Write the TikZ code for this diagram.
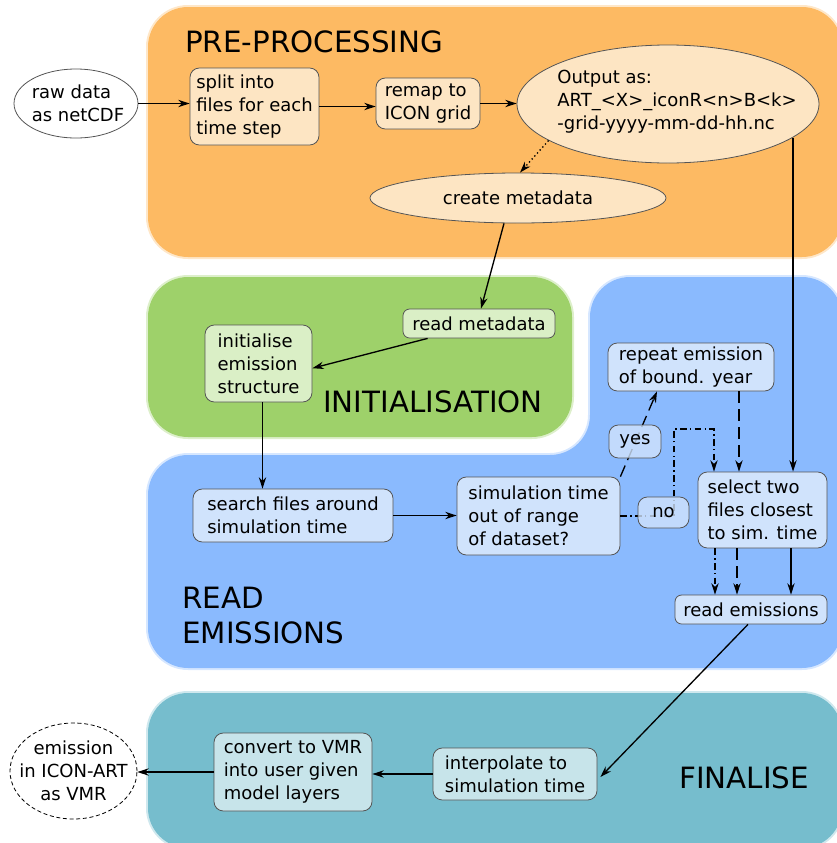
\documentclass[tikz,border=0pt]{standalone}
\usepackage{fontspec}
\setmainfont{DejaVu Sans}
\usetikzlibrary{shapes.geometric,arrows.meta,calc}
\definecolor{orangereg}{RGB}{253,186,99}
\definecolor{orangebox}{RGB}{253,229,195}
\definecolor{greenreg}{RGB}{158,209,106}
\definecolor{greenbox}{RGB}{218,239,198}
\definecolor{bluereg}{RGB}{138,186,254}
\definecolor{bluebox}{RGB}{208,227,252}
\definecolor{tealreg}{RGB}{118,189,205}
\definecolor{tealbox}{RGB}{199,228,234}
\definecolor{edgegray}{RGB}{85,85,85}
\begin{document}
\begin{tikzpicture}[x=0.75pt,y=-0.75pt,
  every node/.style={font=\fontsize{13.5pt}{17.25pt}\selectfont, text=black},
  box/.style={draw=edgegray, line width=0.6pt, rounded corners=7pt, align=left, inner sep=2pt},
  obox/.style={box, fill=orangebox},
  gbox/.style={box, fill=greenbox},
  bbox/.style={box, fill=bluebox},
  tbox/.style={box, fill=tealbox},
  ell/.style={ellipse, draw=edgegray, line width=0.6pt, inner sep=0pt},
  txt/.style={align=left, inner sep=0pt},
  title/.style={font=\fontsize{22pt}{26.25pt}\selectfont, anchor=base west, inner sep=0pt},
  arr/.style={-{Stealth[length=8.5pt,width=5.5pt]}, line width=1pt},
  longdash/.style={dash pattern=on 9pt off 4.5pt},
  dashdotline/.style={dash pattern=on 5pt off 2.5pt on 1pt off 2.5pt},
  dotline/.style={dash pattern=on 1pt off 2pt},
  region/.style={rounded corners=30pt},
  halo/.style={line width=3pt, opacity=0.35, rounded corners=30pt},
  seethrough/.style={fill opacity=0.8, text opacity=1}
]
\useasboundingbox (0,0) rectangle (837,843);
% regions
\fill[orangereg, region] (148,7) rectangle (842,257);
\draw[orangereg, halo] (148,7) rectangle (842,257);
\fill[greenreg, region] (148,277) rectangle (572,437);
\draw[greenreg, halo] (148,277) rectangle (572,437);
\fill[bluereg, region] (148,560) -- (148,455) -- (590,455) -- (590,277) -- (842,277) -- (842,668) -- (148,668) -- cycle;
\draw[bluereg, halo] (148,560) -- (148,455) -- (590,455) -- (590,277) -- (842,277) -- (842,668) -- (148,668) -- cycle;
\fill[tealreg, region] (148,693) rectangle (842,848);
\draw[tealreg, halo] (148,693) rectangle (842,848);
% titles
\node[title] (pretitle) at (185,52) {PRE-PROCESSING};
\node[title] (inittitle) at (323,412) {INITIALISATION};
\node[title] (readtitle1) at (182,608) {READ};
\node[title] (readtitle2) at (182,643) {EMISSIONS};
\node[title] (fintitle) at (679,788) {FINALISE};
% ellipses
\node[ell, fill=white, minimum width=93pt, minimum height=51.75pt] (raw) at (76,103.5) {};
\node[txt] (rawtxt) at (78,103.5) {raw data\\as netCDF};
\node[ell, fill=orangebox, minimum width=226.5pt, minimum height=88.5pt] (output) at (668,104) {};
\node[txt] (outputtxt) at (677,102) {Output as:\\ART\_<X>\_iconR<n>B<k>\\-grid-yyyy-mm-dd-hh.nc};
\node[ell, fill=orangebox, minimum width=222pt, minimum height=37.5pt] (create) at (518,198) {};
\node[txt] (createtxt) at (518,198) {create metadata};
\node[ell, fill=white, draw=black, dash pattern=on 3pt off 2pt, minimum width=95.25pt, minimum height=72pt] (emission) at (73.5,771) {};
\node[align=center, inner sep=0pt] (emissiontxt) at (73.5,771) {emission\\in ICON-ART\\as VMR};
% boxes
\node[obox, minimum width=96.75pt, minimum height=57.75pt] (split) at (254.5,106.5) {split into\\files for each\\time step};
\node[obox, minimum width=78pt, minimum height=38.25pt] (remap) at (428,103.5) {remap to\\ICON grid};
\node[gbox, rounded corners=5pt, minimum width=114pt, minimum height=21.75pt] (readmeta) at (479,323.5) {read metadata};
\node[gbox, minimum width=80.25pt, minimum height=57.75pt] (init) at (258.5,363.5) {initialise\\emission\\structure};
\node[bbox, minimum width=124.5pt, minimum height=36pt] (repeat) at (691,367) {repeat emission\\of bound. year};
\node[bbox, minimum width=122.25pt, minimum height=58.5pt] (sim) at (538.5,516) {simulation time\\out of range\\of dataset?};
\node[bbox, minimum width=96.75pt, minimum height=57pt] (select) at (762.5,510) {select two\\files closest\\to sim. time};
\node[bbox, minimum width=150pt, minimum height=39.75pt] (search) at (293,515.5) {search files around\\simulation time};
\node[bbox, rounded corners=5pt, minimum width=114pt, minimum height=21.75pt] (reademi) at (751,609.5) {read emissions};
\node[tbox, minimum width=123pt, minimum height=39pt] (interp) at (515,774) {interpolate to\\simulation time};
\node[tbox, minimum width=118.5pt, minimum height=58.5pt] (convert) at (293,772) {convert to VMR\\into user given\\model layers};
% helper coordinates
\coordinate (c1) at ($(create.south)+(-14,0)$);
\coordinate (m1) at ($(readmeta.north)+(2,0)$);
\coordinate (o1) at (output.197);
\coordinate (cn) at ($(create.north)+(2,0)$);
\coordinate (rm1) at ($(readmeta.south west)+(25,0)$);
\coordinate (i1) at ($(init.south)+(4,0)$);
\coordinate (r1) at ($(repeat.south)+(-34,0)$);
\coordinate (r2) at ($(repeat.south)+(48,0)$);
\coordinate (n1) at (674,429);
\coordinate (s1) at ($(select.north)+(-48.5,0)$);
\coordinate (sa) at ($(select.south)+(-47.5,0)$);
\coordinate (sb) at ($(select.south)+(-25.5,0)$);
\coordinate (sc) at ($(select.south)+(28.5,0)$);
\coordinate (e1) at ($(reademi.south)+(-3,0)$);
\coordinate (e2) at ($(interp.east)+(3,3)$);
% connectors
\draw[arr] (raw.east) -- (raw.east -| split.west);
\draw[arr] (split.east) -- (split.east -| remap.west);
\draw[arr] (remap.east) -- (remap.east -| output.west);
\draw[arr, dotline] (o1) -- (cn);
\draw[arr] (c1) -- (m1);
\draw[arr] (output.-15.5) -- (output.-15.5 |- select.north);
\draw[arr] (rm1) -- (init.-5);
\draw[arr] (i1) -- (i1 |- search.north);
\draw[arr] (search.east) -- (search.east -| sim.west);
\draw[arr, longdash] (sim.north east) -- (r1);
\draw[arr, dashdotline] (sim.east) -| (n1) -| (s1);
\draw[arr, longdash] (r2) -- (r2 |- select.north);
\draw[arr, dashdotline] (sa) -- (sa |- reademi.north);
\draw[arr, longdash] (sb) -- (sb |- reademi.north);
\draw[arr] (sc) -- (sc |- reademi.north);
\draw[arr] (e1) -- (e2);
\draw[arr] (interp.west) -- (interp.west -| convert.east);
\draw[arr] (convert.west) -- (convert.west -| emission.east);
% labels on connectors
\node[bbox, seethrough, minimum width=39pt, minimum height=24.75pt] (yes) at (635,441.5) {yes};
\node[bbox, seethrough, minimum width=38.25pt, minimum height=23.25pt] (no) at (663.5,512.5) {no};
\end{tikzpicture}
\end{document}
